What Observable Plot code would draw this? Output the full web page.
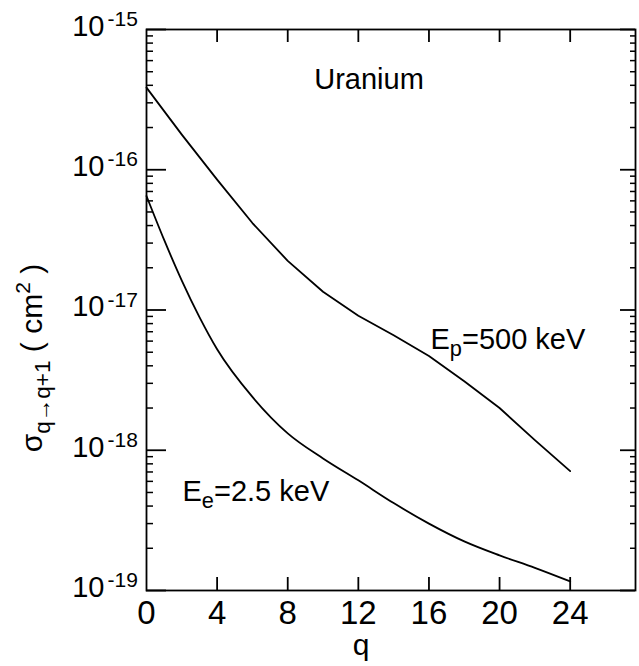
<!DOCTYPE html>
<html><head><meta charset="utf-8">
<script src="https://cdn.jsdelivr.net/npm/d3@7"></script>
<script src="https://cdn.jsdelivr.net/npm/@observablehq/plot@0.6"></script>
<style>body{margin:0;background:#fff}</style>
</head><body><div id="chart"></div>
<script>
// ---- data ----
const protonQ = [0, 2, 4, 6, 8, 10, 12, 14, 16, 18, 20, 22, 24];
const protonSigma = [3.85e-16, 1.78e-16, 8.5e-17, 4.17e-17, 2.24e-17, 1.35e-17, 9.1e-18, 6.6e-18, 4.7e-18, 3.1e-18, 2.0e-18, 1.18e-18, 7.1e-19];
const electronQ = [0, 1, 2, 3, 4, 6, 8, 10, 12, 14, 16, 18, 20, 22, 24];
const electronSigma = [6.5e-17, 3.16e-17, 1.62e-17, 8.9e-18, 5.25e-18, 2.4e-18, 1.32e-18, 8.75e-19, 6.1e-19, 4.2e-19, 3.0e-19, 2.24e-19, 1.78e-19, 1.45e-19, 1.16e-19];
const xTicks = [0, 4, 8, 12, 16, 20, 24];
const yMajor = [1e-19, 1e-18, 1e-17, 1e-16, 1e-15];
const yExponents = ["-19", "-18", "-17", "-16", "-15"];
const minorMultipliers = [2, 3, 4, 5, 6, 7, 8, 9];
const yMinor = yMajor.slice(0, -1).flatMap(d => minorMultipliers.map(m => m * d));
const protonLabel = "E_{p}=500 keV";
const electronLabel = "E_{e}=2.5 keV";
const elementLabel = "Uranium";
const yTitle = "σ_{q→q+1} ( cm^{2} )";
const xTitle = "q";

const protons = protonQ.map((q, i) => ({q, sigma: protonSigma[i]}));
const electrons = electronQ.map((q, i) => ({q, sigma: electronSigma[i]}));

// ---- layout ----
const W = 639, H = 666;
const mL = 146, mR = 4, mT = 29, mB = 76;
const fw = W - mL - mR, fh = H - mT - mB;
const font = "'Liberation Sans', Arial, sans-serif";

const chart = Plot.plot({
  width: W, height: H,
  marginLeft: mL, marginRight: mR, marginTop: mT, marginBottom: mB,
  style: {fontFamily: font, background: "white", color: "black"},
  x: {domain: [0, 27.7], axis: null},
  y: {type: "log", domain: [1e-19, 1e-15], axis: null},
  marks: [
    Plot.frame({stroke: "black", strokeWidth: 1.8}),
    // inward ticks
    Plot.tickX(xTicks.slice(1), {x: d => d, insetTop: fh - 13, strokeWidth: 1.8}),
    Plot.tickX(xTicks.slice(1), {x: d => d, insetBottom: fh - 13, strokeWidth: 1.8}),
    Plot.tickY(yMajor, {y: d => d, insetRight: fw - 20, strokeWidth: 1.8}),
    Plot.tickY(yMinor, {y: d => d, insetRight: fw - 7, strokeWidth: 1.5}),
    Plot.tickY(yMajor, {y: d => d, insetLeft: fw - 15, strokeWidth: 1.8}),
    Plot.tickY(yMinor, {y: d => d, insetLeft: fw - 5, strokeWidth: 1.5}),
    // x tick labels
    Plot.axisX(xTicks, {tickSize: 0, tickPadding: 10, fontSize: 33, label: null}),
    Plot.text([xTitle], {frameAnchor: "bottom", lineAnchor: "middle", dx: -30, dy: 55, fontSize: 30}),
    // y tick labels 10^n
    Plot.text(yMajor, {y: d => d, text: () => "10", frameAnchor: "left", lineAnchor: "middle", textAnchor: "end", dx: -42, dy: -3, fontSize: 29}),
    Plot.text(yMajor, {y: d => d, text: (d, i) => yExponents[i], frameAnchor: "left", lineAnchor: "middle", textAnchor: "start", dx: -39, dy: -10, fontSize: 21}),
    Plot.text([yTitle], {frameAnchor: "left", lineAnchor: "middle", textAnchor: "middle", rotate: -90, dx: -114, dy: 48, fontSize: 30}),
    // curves
    Plot.line(protons, {x: "q", y: "sigma", stroke: "black", strokeWidth: 1.8, curve: "linear"}),
    Plot.line(electrons, {x: "q", y: "sigma", stroke: "black", strokeWidth: 1.8, curve: "monotone-x"}),
    // annotations
    Plot.text([elementLabel], {frameAnchor: "top", lineAnchor: "middle", textAnchor: "middle", dx: -22, dy: 50, fontSize: 29}),
    Plot.text([protonLabel], {frameAnchor: "left", lineAnchor: "middle", textAnchor: "start", dx: 284, dy: 29.5, fontSize: 29}),
    Plot.text([electronLabel], {frameAnchor: "left", lineAnchor: "middle", textAnchor: "start", dx: 36, dy: 181.5, fontSize: 29})
  ]
});
document.getElementById("chart").append(chart);

// rich text: ^{..} superscript, _{..} subscript
const NS = "http://www.w3.org/2000/svg";
chart.querySelectorAll("text").forEach(el => {
  const s = el.textContent;
  if (!/[_^]\{/.test(s)) return;
  const fs = parseFloat(getComputedStyle(el).fontSize) || 29;
  while (el.firstChild) el.removeChild(el.firstChild);
  const re = /([_^])\{([^}]*)\}/g;
  let last = 0, shift = 0, m;
  const add = (txt, size, dy) => {
    const t = document.createElementNS(NS, "tspan");
    t.textContent = txt;
    if (size) t.setAttribute("font-size", size);
    if (dy) t.setAttribute("dy", dy);
    el.appendChild(t);
  };
  while ((m = re.exec(s))) {
    if (m.index > last) { add(s.slice(last, m.index), null, -shift); shift = 0; }
    const sup = m[1] === "^";
    const d = sup ? -0.42 * fs : 0.25 * fs;
    add(m[2], (sup ? 0.7 : 0.75) * fs, d - shift);
    shift = d;
    last = re.lastIndex;
  }
  if (last < s.length) add(s.slice(last), null, -shift);
});
</script>
</body></html>
